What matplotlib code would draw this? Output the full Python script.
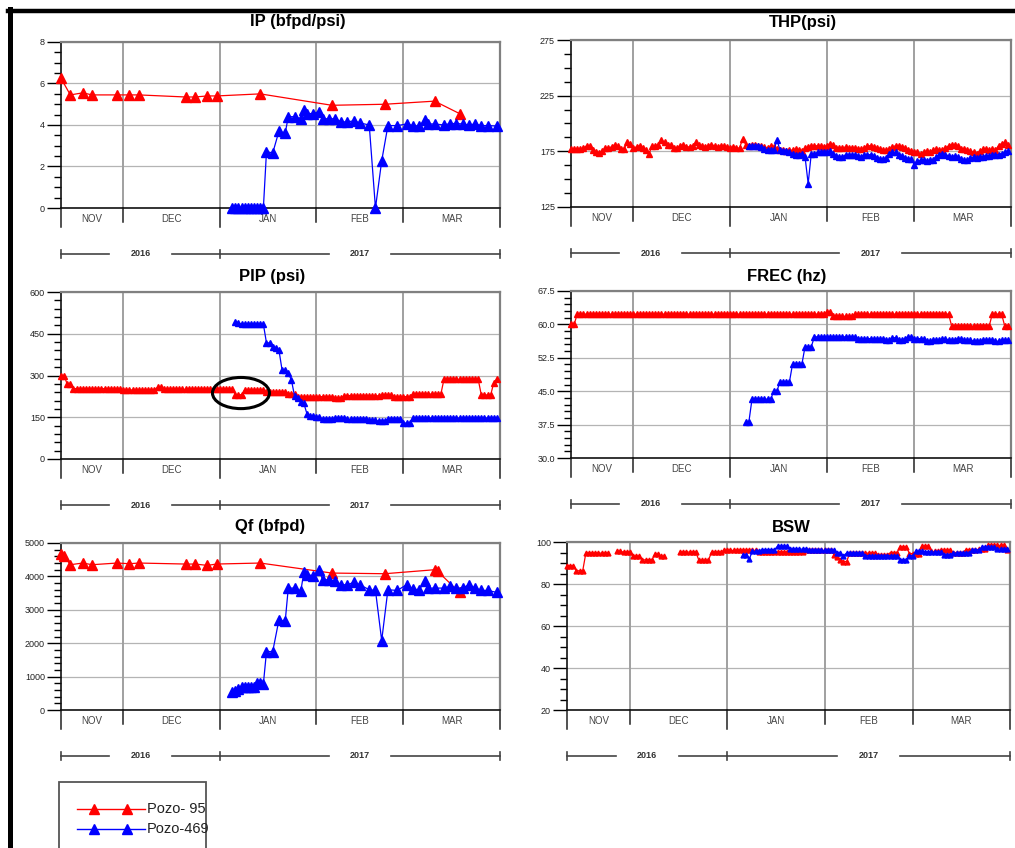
import numpy as np
import matplotlib
matplotlib.use("Agg")
import matplotlib.pyplot as plt
from matplotlib.lines import Line2D
from matplotlib.patches import Rectangle, Ellipse
from matplotlib.ticker import FormatStrFormatter

plt.rcParams['font.family'] = ['Liberation Sans', 'DejaVu Sans']

# x = days counted from 2016-11-01
x_ini, x_fin = 10, 151
mes_lim = [30, 61, 92, 120]
meses = ['NOV', 'DEC', 'JAN', 'FEB', 'MAR']
anios = ['2016', '2017']
anio_lim = [10, 61, 151]

# ---- IP (bfpd/psi)
ip95_dia = [10, 13, 17, 20, 28, 32, 35, 50, 53, 57, 60, 74, 97, 114, 130, 138]
ip95 = [6.25, 5.45, 5.55, 5.45, 5.45, 5.45, 5.45, 5.35, 5.35, 5.4, 5.4, 5.5, 4.95, 5.0, 5.15, 4.55]
ip469_dia = [65, 66, 67, 68, 69, 70, 71, 72, 73, 74, 75,
             76, 78, 80, 82, 83, 85, 87, 88, 89, 91, 93, 94, 96, 98, 100, 102, 104, 106, 109,
             111, 113, 115, 118, 121, 123, 125, 127, 128, 130, 133, 135, 137, 139, 141, 143, 145, 147, 150]
ip469 = [0, 0, 0, 0, 0, 0, 0, 0, 0, 0, 0,
         2.72, 2.65, 3.7, 3.6, 4.4, 4.4, 4.3, 4.7, 4.55, 4.55, 4.65, 4.3, 4.3, 4.3, 4.15, 4.15, 4.2, 4.1, 4.0,
         0, 2.27, 3.97, 3.97, 4.05, 3.97, 3.95, 4.25, 4.05, 4.05, 4.0, 4.07, 4.07, 4.05, 4.0, 4.05, 3.97, 3.97, 3.95]

# ---- Qf (bfpd)
qf95_dia = [10, 11, 13, 17, 20, 28, 32, 35, 50, 53, 57, 60, 74, 97, 114, 130, 131, 138]
qf95 = [4680, 4620, 4350, 4400, 4350, 4400, 4380, 4400, 4370, 4370, 4330, 4370, 4400, 4100, 4080, 4200, 4150, 3520]
qf469_dia = ip469_dia
qf469 = [550, 580, 620, 680, 700, 700, 680, 700, 820, 800, 780,
         1750, 1750, 2700, 2650, 3650, 3650, 3550, 4120, 4050, 4020, 4180, 3900, 3900, 3870, 3750, 3750, 3820, 3750, 3600,
         3580, 2080, 3600, 3580, 3750, 3620, 3600, 3850, 3650, 3650, 3650, 3700, 3650, 3650, 3750, 3650, 3580, 3580, 3520]

# ---- THP (psi), daily: Pozo-95 from day 10, Pozo-469 from day 67
thp95 = [177, 177, 177, 177, 178, 180, 180, 176, 174, 173.5, 175, 178, 178, 179, 181, 180, 177, 177, 183, 182,
         178, 179, 180, 178, 176, 173, 180, 180, 181, 185, 183, 181, 181, 178, 178, 180, 181, 179, 179, 180,
         183, 181, 180, 179, 180, 181, 180, 179, 180, 180, 179, 178, 179, 178, 178, 186, 181, 180, 181, 181,
         180, 180, 179, 178, 180, 179, 177, 176, 176, 175, 176, 176, 177, 176, 175, 178, 179, 180, 180, 180,
         180, 179, 180, 182, 181, 178, 178, 178, 179, 178, 178, 178, 177, 177, 178, 180, 180, 179, 178, 177,
         176, 176, 177, 179, 180, 180, 179, 178, 176, 175, 174, 174, 173, 174, 175, 174, 176, 177, 176, 176,
         178, 180, 181, 181, 180, 177, 177, 176, 175, 174, 173, 175, 177, 177, 176, 177, 176, 180, 182, 183, 181]
thp469 = [180, 180, 180, 180, 179, 177, 176, 176, 176, 185, 176, 175, 175, 174, 173, 172, 172, 173, 170, 146,
          173, 173, 174, 174, 174, 174, 175, 173, 171, 170, 170, 172, 172, 172, 172, 171, 170, 172, 172, 172,
          171, 169, 168, 168, 169, 173, 174, 174, 172, 171, 169, 168, 168, 163, 166, 167, 167, 166, 167, 167,
          170, 172, 173, 172, 171, 170, 171, 170, 168, 167, 167, 169, 170, 169, 170, 170, 171, 171, 172, 172,
          172, 173, 174, 175]

# ---- PIP (psi), daily: Pozo-95 from day 10, Pozo-469 from day 66
pip95 = [300, 300, 268, 268, 253, 253, 253, 253, 253, 253, 253, 253, 253, 253, 253, 253, 253, 253, 253, 253,
         248, 248, 248, 248, 248, 248, 248, 248, 248, 248, 248, 257, 257, 250, 250, 250, 250, 250, 250, 250,
         250, 250, 250, 250, 250, 250, 250, 250, 250, 250, 250, 250, 250, 250, 250, 250, 231, 231, 231, 248,
         248, 248, 248, 248, 248, 248, 240, 240, 240, 240, 240, 240, 240, 234, 234, 234, 224, 224, 224, 224,
         224, 224, 224, 224, 224, 224, 224, 224, 218, 218, 218, 228, 228, 228, 228, 228, 228, 228, 228, 227,
         227, 227, 227, 230, 230, 230, 230, 224, 224, 224, 224, 224, 224, 233, 233, 233, 233, 233, 233, 233,
         233, 233, 233, 286, 286, 286, 286, 286, 286, 286, 286, 286, 286, 286, 286, 230, 230, 230, 230, 274, 286]
pip469 = [493, 490, 484, 484, 484, 484, 484, 484, 484, 484, 417, 417, 402, 400, 391, 320, 318, 308, 284, 227,
          218, 206, 200, 162, 155, 153, 152, 150, 143, 143, 143, 143, 147, 147, 147, 147, 143, 143, 143, 143,
          143, 143, 143, 140, 140, 140, 135, 135, 135, 144, 144, 144, 144, 144, 129, 129, 129, 147, 147, 147,
          147, 147, 147, 147, 147, 147, 147, 147, 147, 147, 147, 147, 147, 147, 147, 147, 147, 147, 147, 147,
          147, 147, 147, 147, 147]

# ---- FREC (hz), daily: Pozo-95 from day 10, Pozo-469 from day 66
frec95 = [60.0, 60.0, 62.3, 62.3, 62.3, 62.3, 62.3, 62.3, 62.3, 62.3, 62.3, 62.3, 62.3, 62.3, 62.3, 62.3, 62.3, 62.3, 62.3, 62.3,
          62.3, 62.3, 62.3, 62.3, 62.3, 62.3, 62.3, 62.3, 62.3, 62.3, 62.3, 62.3, 62.3, 62.3, 62.3, 62.3, 62.3, 62.3, 62.3, 62.3,
          62.3, 62.3, 62.3, 62.3, 62.3, 62.3, 62.3, 62.3, 62.3, 62.3, 62.3, 62.3, 62.3, 62.3, 62.3, 62.3, 62.3, 62.3, 62.3, 62.3,
          62.3, 62.3, 62.3, 62.3, 62.3, 62.3, 62.3, 62.3, 62.3, 62.3, 62.3, 62.3, 62.3, 62.3, 62.3, 62.3, 62.3, 62.3, 62.3, 62.3,
          62.3, 62.3, 62.8, 62.8, 61.8, 61.8, 61.8, 61.8, 61.8, 61.8, 61.8, 62.3, 62.3, 62.3, 62.3, 62.3, 62.3, 62.3, 62.3, 62.3,
          62.3, 62.3, 62.3, 62.3, 62.3, 62.3, 62.3, 62.3, 62.3, 62.3, 62.3, 62.3, 62.3, 62.3, 62.3, 62.3, 62.3, 62.3, 62.3, 62.3,
          62.3, 62.3, 59.6, 59.6, 59.6, 59.6, 59.6, 59.6, 59.6, 59.6, 59.6, 59.6, 59.6, 59.6, 59.6, 62.3, 62.3, 62.3, 62.3, 59.6, 59.6]
frec469 = [38.1, 38.1, 43.2, 43.2, 43.2, 43.2, 43.2, 43.2, 43.2, 45.1, 45.1, 47.1, 47.1, 47.1, 47.1, 51.1, 51.1, 51.1, 51.1, 55.0,
           55.0, 55.0, 57.2, 57.2, 57.2, 57.2, 57.2, 57.2, 57.2, 57.2, 57.2, 57.2, 57.2, 57.2, 57.2, 57.2, 56.8, 56.8, 56.8, 56.8,
           56.8, 56.8, 56.8, 56.8, 56.8, 56.5, 56.5, 57.0, 57.0, 56.5, 56.5, 56.8, 57.2, 57.2, 56.8, 56.8, 56.8, 56.8, 56.2, 56.2,
           56.5, 56.5, 56.5, 56.8, 56.8, 56.5, 56.5, 56.5, 56.8, 56.8, 56.5, 56.5, 56.5, 56.2, 56.2, 56.2, 56.5, 56.5, 56.5, 56.5,
           56.2, 56.2, 56.5, 56.5, 56.5]

# ---- BSW, daily: Pozo-95 from day 10 (nan = no test), Pozo-469 from day 66
nan = np.nan
bsw95 = [88.7, 88.7, 88.7, 86.3, 86.3, 86.3, 94.7, 94.7, 94.7, 94.7, 94.7, 94.7, 94.7, 94.7, nan, nan, 95.5, 95.5, 95.2, 95.2,
         95.2, 93.1, 93.1, 93.1, 91.5, 91.5, 91.5, 91.5, 94.2, 94.2, 93.1, 93.1, nan, nan, nan, nan, 95.2, 95.2, 95.2, 95.2,
         95.2, 95.2, 91.2, 91.2, 91.2, 91.2, 95.2, 95.2, 95.2, 95.2, 96, 96, 96, 96, 96, 96, 96, 96, 96, 96,
         96, 95.2, 95.2, 95.2, 95.2, 95.2, 95.2, 95.2, 95.2, 95.2, 95.2, 95.2, 95.2, 95.2, 95.2, 95.2, 96, 96, 96, 96,
         96, 96, 96, 96, 96, 94, 92.9, 91.5, 90.7, 90.7, 94.7, 94.7, 94.7, 94.7, 94.7, 94.7, 94.7, 94.7, 94.7, 94,
         94, 94, 94, 95, 95, 95, 97.6, 97.6, 97.6, 94.5, 94.5, 94.5, 94.5, 98, 98, 98, 95.5, 95.5, 95.5, 96,
         96, 96, 96, 95, 95, 95, 95, 96.3, 96.3, 96.3, 96.3, 96.5, 96.5, 96.5, 98.4, 98.4, 98.4, 98.4, 98.4, 98.4, 96]
bsw469 = [94, 94, 91.9, 95.5, 95.5, 95.5, 96.3, 96.3, 96.3, 96.3, 96.3, 97.9, 97.9, 97.9, 97.9, 96.6, 96.6, 96.6, 96.6, 96.6,
          96.6, 96, 96, 96, 96, 96, 96, 96, 96, 96, 94.7, 94.7, 93.5, 94.7, 94.7, 94.7, 94.7, 94.7, 94.7, 93.5,
          93.5, 93.5, 93.5, 93.5, 93.5, 93.5, 93.5, 93.5, 93.5, 93.5, 91.5, 91.5, 91.5, 93.5, 93.5, 95.5, 95.5, 95.5, 95.2, 95.2,
          95.2, 95.2, 95.2, 95.2, 94, 94, 94, 94.7, 94.7, 94.7, 94.7, 94.7, 94.7, 96.3, 96.3, 96.3, 97.4, 97.4, 97.4, 97.4,
          97.4, 96.6, 96.6, 96.6, 96.6]


def diario(inicio, valores):
    return np.arange(inicio, inicio + len(valores))


fig = plt.figure(figsize=(10.15, 8.48), dpi=100)
W, H = 1015.0, 848.0


def panel(px, titulo, tx, ty, ylim, paso, menor, fmt, rx, ry, bx, by, ms, lw=0.9):
    # px = (left, top, right, bottom) in pixels
    l, t, r, b = px
    ax = fig.add_axes([l / W, (H - b) / H, (r - l) / W, (b - t) / H])
    h = b - t
    ax.plot(rx, ry, color='#ff0000', marker='^', ms=ms, lw=lw, mec='#ff0000', clip_on=False, zorder=3)
    ax.plot(bx, by, color='#0000ff', marker='^', ms=ms, lw=lw, mec='#0000ff', clip_on=False, zorder=4)
    ax.set_xlim(x_ini, x_fin)
    ax.set_ylim(ylim)
    ax.set_yticks(np.arange(ylim[0], ylim[1] + paso / 2, paso))
    ax.set_yticks(np.arange(ylim[0], ylim[1] + menor / 2, menor), minor=True)
    ax.yaxis.set_major_formatter(FormatStrFormatter(fmt))
    ax.set_xticks([])
    ax.tick_params(axis='y', which='major', length=10, width=1, labelsize=6.5, pad=1.5, labelcolor='#222')
    ax.tick_params(axis='y', which='minor', length=5, width=1)
    ax.grid(axis='y', color='#b4b4b4', lw=0.9)
    ax.set_axisbelow(True)
    for m in mes_lim:
        ax.axvline(m, color='#a0a0a0', lw=1.4, zorder=1)
    for s in ['left', 'bottom']:
        ax.spines[s].set_color('#111')
        ax.spines[s].set_linewidth(1.2)
    for s in ['top', 'right']:
        ax.spines[s].set_color('#808080')
        ax.spines[s].set_linewidth(1.6)
    ax.text(tx, 1 + ty / h, titulo, transform=ax.transAxes, ha='center', va='center',
            fontsize=12, fontweight='bold')

    tr = ax.get_xaxis_transform()
    bordes = [x_ini] + mes_lim + [x_fin]
    for m in bordes:
        largo = 19 if m in anio_lim else 14
        ax.plot([m, m], [0, -largo / h], transform=tr, color='#222', lw=1.1, clip_on=False)
    for i, nom in enumerate(meses):
        ax.text((bordes[i] + bordes[i + 1]) / 2, -11 / h, nom, transform=tr, ha='center', va='center',
                fontsize=7, color='#444')
    # year row
    yy = -46 / h
    for i, an in enumerate(anios):
        a0, a1 = anio_lim[i], anio_lim[i + 1]
        mid = (a0 + a1) / 2
        ax.plot([a0, mid - 10], [yy, yy], transform=tr, color='#444', lw=1.2, clip_on=False)
        ax.plot([mid + 10, a1], [yy, yy], transform=tr, color='#444', lw=1.2, clip_on=False)
        ax.text(mid, yy, an, transform=tr, ha='center', va='center', fontsize=6.5, color='#333',
                fontweight='bold')
    for a in anio_lim:
        ax.plot([a, a], [yy - 4 / h, yy + 4 / h], transform=tr, color='#444', lw=1.2, clip_on=False)
    return ax


panel((61, 42, 500, 208), 'IP (bfpd/psi)', 0.54, 20, (0, 8), 2, 0.5, '%d',
      ip95_dia, ip95, ip469_dia, ip469, 7.5)
panel((571, 40, 1011, 207), 'THP(psi)', 0.527, 18, (125, 275), 50, 12.5, '%d',
      diario(10, thp95), thp95, diario(67, thp469), thp469, 5)
axp = panel((61, 292, 500, 459), 'PIP (psi)', 0.48, 15, (0, 600), 150, 30, '%d',
            diario(10, pip95), pip95, diario(66, pip469), pip469, 4)
panel((571, 291, 1011, 458), 'FREC (hz)', 0.49, 14, (30, 67.5), 7.5, 1.5, '%.1f',
      diario(10, frec95), frec95, diario(66, frec469), frec469, 4)
panel((61, 543, 500, 710), 'Qf (bfpd)', 0.476, 16, (0, 5000), 1000, 200, '%d',
      qf95_dia, qf95, qf469_dia, qf469, 7.5)
panel((567, 542, 1010, 710), 'BSW', 0.507, 15, (20, 100), 20, 5, '%d',
      diario(10, bsw95), bsw95, diario(66, bsw469), bsw469, 3.5)

# circle highlighting the PIP dip
axp.add_patch(Ellipse((67.8, 237), 18.3, 112, fill=False, ec='black', lw=2.2, zorder=6))

# legend box (drawn by hand, partly below the figure edge)
fig.add_artist(Rectangle((59 / W, -0.02), (206 - 59) / W, 0.02 + (848 - 782) / H,
                         transform=fig.transFigure, fill=False, ec='#555', lw=1.3))
for yp, col, lab in [(809, '#ff0000', 'Pozo- 95'), (829, '#0000ff', 'Pozo-469')]:
    yf = (H - yp) / H
    fig.add_artist(Line2D([77 / W, 145 / W], [yf, yf], color=col, lw=1.0, transform=fig.transFigure))
    fig.add_artist(Line2D([94 / W, 127 / W], [yf, yf], color=col, lw=0, marker='^', ms=7.5,
                          transform=fig.transFigure))
    fig.text(147 / W, yf, lab, fontsize=10.5, va='center', ha='left', color='#222')

# black frame on the left and top
fig.add_artist(Line2D([9.5 / W, 9.5 / W], [0, (H - 9) / H], color='black', lw=3.6, transform=fig.transFigure))
fig.add_artist(Line2D([8 / W, 1], [(H - 11) / H, (H - 11) / H], color='black', lw=3.2, transform=fig.transFigure))

fig.savefig('out.png', dpi=100)
